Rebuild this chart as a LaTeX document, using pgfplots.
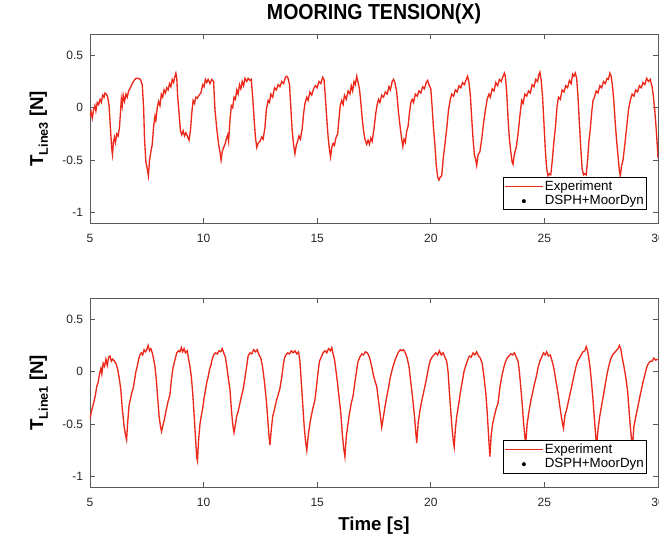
\documentclass[border=0pt]{standalone}
\usepackage{fontspec}
\setmainfont{Liberation Sans}
\newfontfamily\titlefont[FakeStretch=0.9]{Liberation Sans}
\usepackage{pgfplots}
\pgfplotsset{compat=1.18}
\definecolor{expred}{RGB}{235,40,25}

\pgfplotsset{
  mooring/.style={
    scale only axis, width=426pt, height=141.5pt,
    xmin=5, xmax=30, ymin=-1.1, ymax=0.7,
    xtick={5,10,15,20,25,30}, xticklabels={5,10,15,20,25,30},
    ytick={-1,-0.5,0,0.5}, yticklabels={-1,-0.5,0,0.5},
    tick align=inside, major tick length=3.8pt,
    axis line style={black!65, line width=0.6pt},
    every tick/.style={black!65, line width=0.6pt},
    tick label style={font=\fontsize{9}{10}\selectfont, text=black!85},
    xticklabel style={anchor=base, yshift=-14.7pt},
    yticklabel style={anchor=east, inner sep=0pt, xshift=-5pt},
    ylabel style={at={(axis description cs:-0.09,0.5)}, anchor=center,
      font=\fontsize{14}{16}\selectfont\bfseries},
    legend cell align=left,
    legend style={anchor=south east, draw=black, fill=white,
      font=\fontsize{10}{11}\selectfont, inner xsep=1pt, inner ysep=1pt,
      nodes={inner sep=1.2pt}, row sep=0pt},
  },
  expline/.style={expred, line width=1pt,
    legend image code/.code={\draw[##1, line width=1.1pt] (0pt,0pt) -- (28pt,0pt);}},
  dotimage/.style={legend image code/.code={%
    \path[draw=none, fill=none] (0pt,0pt) -- (28pt,0pt);
    \fill[black, draw=none] (14pt,0pt) circle (1.5pt);}},
}

\begin{document}
\begin{tikzpicture}
% upper panel
\begin{axis}[mooring, at={(0,198pt)}, anchor=south west,
  ylabel={T\raisebox{-3.5pt}{\fontsize{9.5}{10}\selectfont Line3} [N]},
  title={\titlefont\bfseries\fontsize{16.3}{18}\selectfont MOORING TENSION(X)},
  title style={at={(axis description cs:0.5,1)}, anchor=base, yshift=5pt},
  legend style={at={(axis description cs:0.9806,0.069)}},
]
\addplot[expline] coordinates {
(5.00,-0.08) (5.05,-0.04) (5.10,-0.10) (5.16,-0.02) (5.22,0.02) (5.26,-0.03) (5.32,0.05) (5.38,0.03)
(5.44,0.08) (5.50,0.05) (5.56,0.12) (5.62,0.10) (5.66,0.14) (5.72,0.13) (5.78,0.10) (5.84,0.02)
(5.90,-0.20) (5.96,-0.40) (5.99,-0.45) (6.03,-0.33) (6.08,-0.28) (6.12,-0.33) (6.18,-0.25) (6.24,-0.27)
(6.30,-0.18) (6.34,-0.05) (6.38,0.08) (6.42,0.02) (6.46,0.12) (6.52,0.06) (6.58,0.13) (6.64,0.10)
(6.70,0.16) (6.78,0.19) (6.86,0.23) (6.94,0.26) (7.02,0.28) (7.12,0.28) (7.22,0.27) (7.30,0.22)
(7.36,0.00) (7.40,-0.30) (7.46,-0.52) (7.52,-0.58) (7.57,-0.65) (7.62,-0.50) (7.68,-0.42) (7.74,-0.35)
(7.80,-0.18) (7.86,-0.08) (7.90,-0.12) (7.96,0.00) (8.02,0.06) (8.08,0.02) (8.14,0.13) (8.20,0.10)
(8.26,0.17) (8.32,0.14) (8.38,0.19) (8.44,0.17) (8.50,0.23) (8.56,0.20) (8.62,0.27) (8.68,0.24)
(8.74,0.30) (8.78,0.33) (8.82,0.28) (8.86,0.10) (8.92,-0.05) (8.98,-0.22) (9.04,-0.26) (9.10,-0.22)
(9.16,-0.27) (9.22,-0.24) (9.30,-0.28) (9.36,-0.31) (9.42,-0.22) (9.48,-0.05) (9.54,0.07) (9.60,0.04)
(9.66,0.10) (9.72,0.09) (9.80,0.12) (9.88,0.14) (9.96,0.22) (10.02,0.20) (10.08,0.27) (10.14,0.24)
(10.20,0.27) (10.28,0.23) (10.36,0.27) (10.44,0.25) (10.50,-0.02) (10.58,-0.20) (10.66,-0.35) (10.72,-0.42)
(10.77,-0.50) (10.82,-0.42) (10.88,-0.38) (10.94,-0.35) (11.00,-0.30) (11.06,-0.26) (11.10,-0.32) (11.16,-0.12)
(11.22,0.02) (11.28,0.00) (11.34,0.10) (11.40,0.08) (11.46,0.17) (11.52,0.13) (11.58,0.22) (11.64,0.18)
(11.70,0.25) (11.76,0.21) (11.82,0.28) (11.90,0.25) (11.96,0.28) (12.04,0.26) (12.10,0.27) (12.16,0.10)
(12.22,-0.10) (12.28,-0.28) (12.34,-0.38) (12.40,-0.34) (12.48,-0.32) (12.56,-0.28) (12.62,-0.30) (12.70,-0.19)
(12.76,-0.02) (12.84,0.07) (12.90,0.05) (12.96,0.13) (13.04,0.10) (13.12,0.19) (13.20,0.17) (13.28,0.22)
(13.36,0.20) (13.44,0.25) (13.52,0.23) (13.60,0.29) (13.66,0.30) (13.72,0.28) (13.78,0.22) (13.84,0.00)
(13.90,-0.22) (13.96,-0.35) (14.02,-0.44) (14.08,-0.36) (14.14,-0.32) (14.20,-0.27) (14.26,-0.30) (14.34,-0.20)
(14.40,-0.06) (14.46,0.04) (14.54,0.10) (14.60,0.07) (14.68,0.15) (14.76,0.12) (14.84,0.18) (14.92,0.21)
(15.00,0.19) (15.08,0.25) (15.16,0.23) (15.24,0.29) (15.30,0.27) (15.36,0.10) (15.42,-0.10) (15.48,-0.28)
(15.54,-0.40) (15.59,-0.47) (15.64,-0.38) (15.70,-0.34) (15.76,-0.36) (15.82,-0.29) (15.90,-0.25) (15.96,-0.10)
(16.02,0.03) (16.08,0.07) (16.14,0.03) (16.20,0.12) (16.28,0.08) (16.36,0.16) (16.44,0.13) (16.50,0.21)
(16.56,0.16) (16.62,0.25) (16.68,0.22) (16.74,0.30) (16.80,0.24) (16.86,0.18) (16.92,0.05) (16.98,-0.10)
(17.04,-0.22) (17.10,-0.30) (17.18,-0.35) (17.24,-0.31) (17.30,-0.35) (17.36,-0.29) (17.42,-0.32) (17.50,-0.20)
(17.58,-0.05) (17.64,0.03) (17.70,0.08) (17.76,0.05) (17.84,0.12) (17.92,0.10) (18.00,0.15) (18.08,0.13)
(18.16,0.20) (18.22,0.17) (18.30,0.25) (18.36,0.27) (18.42,0.24) (18.50,0.15) (18.58,-0.05) (18.66,-0.20)
(18.72,-0.30) (18.77,-0.37) (18.82,-0.30) (18.88,-0.33) (18.94,-0.22) (19.00,-0.18) (19.06,-0.05) (19.12,0.05)
(19.18,0.08) (19.24,0.05) (19.32,0.13) (19.40,0.11) (19.48,0.16) (19.56,0.14) (19.64,0.20) (19.72,0.18)
(19.80,0.24) (19.86,0.26) (19.92,0.22) (20.00,0.18) (20.06,0.00) (20.12,-0.20) (20.18,-0.35) (20.24,-0.55)
(20.30,-0.66) (20.36,-0.69) (20.42,-0.66) (20.48,-0.65) (20.54,-0.50) (20.62,-0.35) (20.70,-0.20) (20.78,-0.02)
(20.86,0.08) (20.92,0.13) (21.00,0.11) (21.08,0.17) (21.16,0.15) (21.24,0.21) (21.32,0.19) (21.40,0.24)
(21.48,0.22) (21.56,0.27) (21.62,0.30) (21.68,0.24) (21.74,0.12) (21.80,-0.10) (21.86,-0.30) (21.92,-0.45)
(21.98,-0.50) (22.02,-0.55) (22.08,-0.45) (22.16,-0.42) (22.24,-0.30) (22.32,-0.15) (22.40,-0.03) (22.48,0.08)
(22.56,0.13) (22.62,0.10) (22.70,0.18) (22.78,0.16) (22.86,0.24) (22.94,0.21) (23.02,0.27) (23.10,0.25)
(23.18,0.30) (23.24,0.33) (23.28,0.30) (23.34,0.15) (23.40,-0.10) (23.46,-0.30) (23.52,-0.42) (23.58,-0.52)
(23.62,-0.54) (23.68,-0.44) (23.76,-0.38) (23.84,-0.25) (23.92,-0.08) (24.00,0.07) (24.06,0.04) (24.14,0.13)
(24.22,0.11) (24.30,0.16) (24.38,0.14) (24.46,0.22) (24.54,0.20) (24.62,0.27) (24.70,0.25) (24.76,0.32)
(24.80,0.34) (24.86,0.26) (24.92,0.10) (24.98,-0.15) (25.04,-0.40) (25.10,-0.58) (25.16,-0.65) (25.22,-0.63)
(25.28,-0.64) (25.34,-0.52) (25.42,-0.32) (25.48,-0.20) (25.56,0.02) (25.62,0.10) (25.70,0.08) (25.78,0.17)
(25.86,0.15) (25.94,0.21) (26.02,0.19) (26.10,0.26) (26.18,0.23) (26.24,0.32) (26.30,0.30) (26.36,0.33)
(26.42,0.28) (26.48,0.10) (26.54,-0.15) (26.60,-0.38) (26.66,-0.58) (26.72,-0.64) (26.78,-0.63) (26.84,-0.64)
(26.90,-0.50) (26.96,-0.32) (27.02,-0.20) (27.08,-0.05) (27.14,0.07) (27.20,0.10) (27.28,0.16) (27.36,0.14)
(27.44,0.21) (27.52,0.19) (27.60,0.25) (27.68,0.23) (27.76,0.28) (27.82,0.27) (27.88,0.33) (27.94,0.30)
(28.00,0.20) (28.06,0.05) (28.12,-0.15) (28.18,-0.32) (28.24,-0.46) (28.30,-0.60) (28.34,-0.65) (28.40,-0.55)
(28.46,-0.50) (28.54,-0.35) (28.62,-0.19) (28.70,-0.02) (28.78,0.07) (28.86,0.13) (28.94,0.11) (29.02,0.17)
(29.10,0.15) (29.18,0.21) (29.26,0.19) (29.34,0.24) (29.42,0.22) (29.50,0.28) (29.58,0.25) (29.66,0.27)
(29.74,0.20) (29.80,0.10) (29.86,-0.03) (29.92,-0.20) (29.98,-0.40) (30.00,-0.48)
};
\addlegendentry{Experiment}
\addlegendimage{dotimage}
\addlegendentry{DSPH+MoorDyn}
\end{axis}

% lower panel
\begin{axis}[mooring, at={(0,0)}, anchor=south west,
  ylabel={T\raisebox{-3.5pt}{\fontsize{9.5}{10}\selectfont Line1} [N]},
  xlabel={Time [s]},
  xlabel style={at={(axis description cs:0.5,0)}, anchor=base, yshift=-32.25pt,
    font=\fontsize{14}{16}\selectfont\bfseries},
  legend style={at={(axis description cs:0.9806,0.074)}},
]
\addplot[expline] coordinates {
(5.00,-0.45) (5.06,-0.38) (5.12,-0.33) (5.18,-0.28) (5.24,-0.22) (5.30,-0.14) (5.36,-0.10) (5.42,-0.02)
(5.48,0.03) (5.52,-0.02) (5.58,0.08) (5.64,0.05) (5.70,0.12) (5.76,0.06) (5.82,0.14) (5.88,0.15)
(5.94,0.10) (6.00,0.12) (6.08,0.10) (6.16,0.07) (6.22,0.02) (6.30,-0.08) (6.36,-0.18) (6.42,-0.35)
(6.50,-0.52) (6.56,-0.60) (6.61,-0.65) (6.66,-0.48) (6.72,-0.32) (6.78,-0.26) (6.84,-0.20) (6.90,-0.16)
(6.96,-0.08) (7.02,0.00) (7.08,0.05) (7.14,0.12) (7.20,0.16) (7.26,0.18) (7.32,0.16) (7.38,0.21)
(7.44,0.19) (7.50,0.21) (7.56,0.25) (7.62,0.20) (7.68,0.22) (7.74,0.18) (7.80,0.12) (7.86,0.05)
(7.92,-0.08) (7.98,-0.25) (8.04,-0.42) (8.10,-0.52) (8.15,-0.57) (8.20,-0.52) (8.28,-0.45) (8.36,-0.36)
(8.44,-0.28) (8.52,-0.22) (8.58,-0.08) (8.64,0.02) (8.70,0.08) (8.76,0.13) (8.82,0.18) (8.90,0.20)
(8.96,0.19) (9.02,0.23) (9.08,0.19) (9.14,0.22) (9.20,0.18) (9.28,0.20) (9.34,0.12) (9.40,0.05)
(9.46,-0.05) (9.52,-0.20) (9.58,-0.40) (9.64,-0.62) (9.70,-0.82) (9.73,-0.85) (9.78,-0.65) (9.84,-0.50)
(9.90,-0.42) (9.96,-0.35) (10.02,-0.25) (10.08,-0.18) (10.14,-0.10) (10.20,-0.05) (10.26,0.02) (10.32,0.06)
(10.38,0.12) (10.44,0.16) (10.52,0.18) (10.60,0.17) (10.68,0.20) (10.76,0.19) (10.82,0.22) (10.90,0.17)
(10.96,0.14) (11.02,0.05) (11.10,-0.08) (11.16,-0.17) (11.22,-0.35) (11.28,-0.50) (11.34,-0.58) (11.40,-0.50)
(11.46,-0.42) (11.52,-0.38) (11.58,-0.32) (11.66,-0.24) (11.74,-0.17) (11.82,-0.06) (11.90,0.06) (11.96,0.15)
(12.04,0.18) (12.12,0.17) (12.20,0.21) (12.28,0.19) (12.36,0.21) (12.44,0.16) (12.52,0.13) (12.60,0.04)
(12.68,-0.10) (12.76,-0.27) (12.84,-0.50) (12.88,-0.62) (12.92,-0.70) (12.98,-0.55) (13.04,-0.43) (13.12,-0.36)
(13.20,-0.28) (13.28,-0.22) (13.36,-0.16) (13.44,-0.05) (13.50,0.05) (13.56,0.13) (13.62,0.16) (13.70,0.18)
(13.78,0.17) (13.86,0.20) (13.94,0.18) (14.02,0.20) (14.10,0.17) (14.18,0.19) (14.24,0.10) (14.30,-0.10)
(14.36,-0.30) (14.42,-0.50) (14.48,-0.65) (14.54,-0.75) (14.60,-0.62) (14.66,-0.52) (14.74,-0.42) (14.82,-0.34)
(14.90,-0.27) (14.98,-0.12) (15.04,0.00) (15.10,0.10) (15.18,0.14) (15.26,0.18) (15.34,0.20) (15.42,0.18)
(15.50,0.22) (15.58,0.20) (15.64,0.23) (15.70,0.17) (15.76,0.12) (15.82,0.02) (15.90,-0.12) (15.98,-0.28)
(16.04,-0.40) (16.10,-0.58) (16.16,-0.72) (16.22,-0.81) (16.28,-0.62) (16.34,-0.52) (16.42,-0.40) (16.50,-0.30)
(16.58,-0.23) (16.66,-0.10) (16.74,0.02) (16.80,0.10) (16.88,0.14) (16.96,0.17) (17.04,0.16) (17.12,0.19)
(17.20,0.18) (17.26,0.16) (17.32,0.12) (17.40,0.05) (17.48,-0.04) (17.56,-0.10) (17.62,-0.14) (17.70,-0.28)
(17.78,-0.42) (17.84,-0.53) (17.90,-0.45) (17.98,-0.34) (18.06,-0.24) (18.14,-0.15) (18.22,-0.05) (18.30,0.02)
(18.38,0.08) (18.46,0.13) (18.52,0.16) (18.58,0.19) (18.66,0.21) (18.72,0.20) (18.80,0.21) (18.88,0.18)
(18.96,0.13) (19.04,0.05) (19.12,-0.10) (19.20,-0.25) (19.28,-0.42) (19.34,-0.58) (19.38,-0.68) (19.44,-0.50)
(19.52,-0.37) (19.60,-0.28) (19.68,-0.20) (19.76,-0.12) (19.84,-0.03) (19.92,0.06) (19.98,0.11) (20.06,0.14)
(20.14,0.16) (20.22,0.18) (20.30,0.16) (20.38,0.20) (20.46,0.16) (20.54,0.18) (20.62,0.14) (20.70,0.10)
(20.76,0.00) (20.82,-0.20) (20.88,-0.38) (20.94,-0.55) (21.00,-0.68) (21.03,-0.72) (21.08,-0.55) (21.14,-0.43)
(21.22,-0.32) (21.30,-0.20) (21.38,-0.10) (21.46,0.00) (21.54,0.06) (21.62,0.11) (21.70,0.15) (21.78,0.14)
(21.86,0.18) (21.94,0.16) (22.02,0.19) (22.10,0.15) (22.18,0.13) (22.26,0.08) (22.34,-0.05) (22.42,-0.20)
(22.48,-0.38) (22.54,-0.60) (22.60,-0.81) (22.66,-0.60) (22.72,-0.50) (22.80,-0.42) (22.88,-0.35) (22.96,-0.30)
(23.04,-0.15) (23.12,-0.05) (23.20,0.03) (23.28,0.09) (23.36,0.13) (23.44,0.15) (23.52,0.17) (23.60,0.16)
(23.68,0.18) (23.76,0.14) (23.84,0.10) (23.90,0.00) (23.96,-0.15) (24.02,-0.30) (24.08,-0.48) (24.14,-0.62)
(24.18,-0.68) (24.24,-0.50) (24.32,-0.38) (24.40,-0.28) (24.48,-0.20) (24.56,-0.12) (24.64,-0.05) (24.72,0.04)
(24.80,0.10) (24.88,0.14) (24.96,0.18) (25.04,0.16) (25.10,0.19) (25.18,0.15) (25.26,0.16) (25.34,0.10)
(25.42,0.03) (25.50,-0.08) (25.58,-0.18) (25.66,-0.30) (25.74,-0.42) (25.80,-0.50) (25.84,-0.54) (25.90,-0.42)
(25.98,-0.36) (26.06,-0.28) (26.14,-0.20) (26.22,-0.12) (26.30,-0.04) (26.38,0.04) (26.46,0.10) (26.54,0.13)
(26.62,0.16) (26.70,0.19) (26.78,0.20) (26.84,0.24) (26.90,0.20) (26.96,0.12) (27.02,0.02) (27.08,-0.12)
(27.14,-0.27) (27.20,-0.45) (27.26,-0.62) (27.30,-0.70) (27.36,-0.55) (27.44,-0.42) (27.52,-0.32) (27.60,-0.22)
(27.68,-0.12) (27.76,-0.02) (27.84,0.06) (27.92,0.12) (28.00,0.16) (28.08,0.18) (28.16,0.20) (28.24,0.22)
(28.30,0.25) (28.36,0.22) (28.42,0.14) (28.50,0.05) (28.58,-0.05) (28.66,-0.18) (28.72,-0.35) (28.78,-0.52)
(28.84,-0.66) (28.88,-0.70) (28.94,-0.52) (29.02,-0.43) (29.10,-0.35) (29.18,-0.26) (29.26,-0.18) (29.34,-0.10)
(29.42,-0.03) (29.50,0.04) (29.58,0.08) (29.66,0.10) (29.74,0.10) (29.82,0.13) (29.90,0.11) (29.98,0.12)
};
\addlegendentry{Experiment}
\addlegendimage{dotimage}
\addlegendentry{DSPH+MoorDyn}
\end{axis}
% crop to the reference frame, which cuts the axes at the right edge
\pgfresetboundingbox
\path[use as bounding box] (-67.5pt,-36pt) rectangle (426.75pt,365.25pt);
\end{tikzpicture}
\end{document}
